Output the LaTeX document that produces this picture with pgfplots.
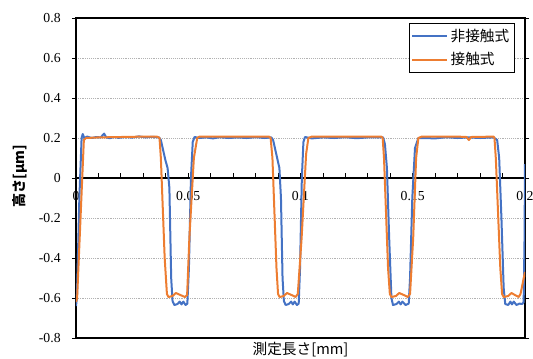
\documentclass[border=0pt]{standalone}
\usepackage{fontspec}
\usepackage{pgfplots}
\pgfplotsset{compat=1.18}
\setmainfont{Liberation Serif}
\newfontfamily\serifnum{Liberation Serif}
\newfontfamily\jp{Noto Sans CJK JP}
\definecolor{exblue}{HTML}{4472C4}
\definecolor{exorange}{HTML}{ED7D31}
\begin{document}
\begin{tikzpicture}
\useasboundingbox (-57pt,-15pt) rectangle (342.75pt,253.5pt);
\begin{axis}[
  scale only axis, width=336.75pt, height=240pt,
  xmin=0, xmax=0.2, ymin=-0.8, ymax=0.8,
  xtick=\empty,
  ytick={-0.8,-0.6,-0.4,-0.2,0,0.2,0.4,0.6,0.8},
  yticklabels={-0.8,-0.6,-0.4,-0.2,0,0.2,0.4,0.6,0.8},
  yticklabel style={font=\serifnum\fontsize{10.3}{12}\selectfont, xshift=-5pt},
  tick align=outside, major tick length=3pt,
  tick style={black, line width=0.6pt},
  ymajorgrids, grid style={densely dotted, black!30, line width=0.6pt},
  axis line style={line width=0.9pt},
  ylabel={\jp\bfseries\fontsize{10.5}{12}\selectfont 高さ[μm]},
  ylabel style={at={(axis description cs:-0.1247,0.506)}, anchor=center},
]
\end{axis}
\begin{axis}[
  scale only axis, width=336.75pt, height=240pt,
  xmin=0, xmax=0.2, ymin=-0.8, ymax=0.8,
  axis x line=middle, axis y line=none,
  x axis line style={-, line width=0.9pt},
  xtick={0,0.05,0.1,0.15,0.2},
  xticklabels={0,0.05,0.1,0.15,0.2},
  minor xtick={0.01,0.02,0.03,0.04,0.06,0.07,0.08,0.09,0.11,0.12,0.13,0.14,0.16,0.17,0.18,0.19},
  xtick align=inside,
  major tick length=3.5pt, minor tick length=3.5pt,
  tick style={black, line width=0.6pt},
  hide obscured x ticks=false,
  xticklabel style={font=\serifnum\fontsize{10.3}{12}\selectfont, anchor=north, yshift=-6.5pt},
  xlabel={\jp\fontsize{11}{13}\selectfont 測定長さ[mm]},
  xlabel style={at={(axis description cs:0.5,0)}, anchor=center, yshift=-8.6pt},
  legend style={at={(rel axis cs:0.9777,0.984)}, anchor=north east, draw=black, line width=0.6pt,
    font=\jp\fontsize{11}{13}\selectfont, inner xsep=2pt, inner ysep=2pt, row sep=3pt,
    cells={anchor=west}},
  legend image code/.code={\draw[#1, line width=1.2pt] (0pt,0pt) -- (26pt,0pt);},
  every axis plot/.append style={line width=1.5pt, line join=round, no markers},
]
\addplot[exblue] coordinates {
(0,-0.64) (0.0004,-0.6) (0.0015,-0.1) (0.0025,0.2) (0.003,0.22) (0.0037,0.2)
(0.005,0.207) (0.007,0.2) (0.009,0.205) (0.011,0.203) (0.0125,0.222) (0.0135,0.203)
(0.015,0.199) (0.017,0.205) (0.019,0.201) (0.022,0.205) (0.025,0.202) (0.028,0.208)
(0.031,0.203) (0.034,0.206) (0.037,0.203) (0.0378,0.19) (0.0388,0.14) (0.0398,0.09)
(0.0408,0.05) (0.0416,-0.05) (0.0424,-0.5) (0.043,-0.615) (0.0438,-0.635) (0.0452,-0.63)
(0.0462,-0.618) (0.047,-0.632) (0.0478,-0.618) (0.0488,-0.635) (0.0496,-0.628) (0.0503,-0.45)
(0.0512,0.0) (0.052,0.18) (0.0528,0.205) (0.055,0.2) (0.058,0.203) (0.061,0.198)
(0.064,0.204) (0.068,0.2) (0.072,0.203) (0.076,0.2) (0.08,0.204) (0.084,0.2)
(0.087,0.203) (0.0878,0.19) (0.0888,0.14) (0.0898,0.09) (0.0906,0.05) (0.0913,-0.1)
(0.092,-0.5) (0.0926,-0.615) (0.0934,-0.635) (0.0948,-0.63) (0.0958,-0.618) (0.0966,-0.632)
(0.0974,-0.618) (0.0984,-0.635) (0.0992,-0.628) (0.0998,-0.45) (0.1006,0.0) (0.1013,0.18)
(0.102,0.205) (0.105,0.198) (0.11,0.203) (0.115,0.2) (0.12,0.204) (0.125,0.199)
(0.13,0.203) (0.1368,0.203) (0.1376,0.17) (0.1385,0.05) (0.1395,-0.3) (0.1405,-0.6)
(0.1412,-0.635) (0.1428,-0.63) (0.1438,-0.618) (0.1446,-0.632) (0.1454,-0.618) (0.1468,-0.635)
(0.1482,-0.628) (0.1488,-0.5) (0.1498,-0.1) (0.151,0.15) (0.1525,0.2) (0.155,0.2)
(0.16,0.198) (0.165,0.204) (0.17,0.2) (0.175,0.203) (0.18,0.2) (0.186,0.203)
(0.1876,0.19) (0.1885,0.1) (0.1895,-0.2) (0.1905,-0.55) (0.1912,-0.63) (0.1925,-0.635)
(0.1935,-0.618) (0.1942,-0.632) (0.195,-0.618) (0.1962,-0.635) (0.1975,-0.628) (0.1988,-0.63)
(0.1994,-0.62) (0.1998,-0.3) (0.2,0.07)
};
\addlegendentry{非接触式}
\addplot[exorange] coordinates {
(0,-0.62) (0.0005,-0.6) (0.0035,0.19) (0.0045,0.2) (0.01,0.203) (0.02,0.205)
(0.03,0.207) (0.036,0.207) (0.0372,0.2) (0.0378,0.1) (0.0395,-0.4) (0.0405,-0.58)
(0.0412,-0.595) (0.043,-0.59) (0.0445,-0.575) (0.0465,-0.585) (0.0485,-0.595) (0.0495,-0.585)
(0.0505,-0.3) (0.0525,0.1) (0.054,0.2) (0.055,0.207) (0.07,0.207) (0.086,0.207)
(0.0867,0.2) (0.0875,0.1) (0.0893,-0.45) (0.09,-0.58) (0.0907,-0.595) (0.0925,-0.59)
(0.094,-0.575) (0.096,-0.585) (0.0978,-0.595) (0.0988,-0.58) (0.1005,-0.3) (0.1025,0.12)
(0.1035,0.2) (0.105,0.207) (0.12,0.207) (0.136,0.207) (0.1366,0.2) (0.1372,0.1)
(0.139,-0.45) (0.1398,-0.58) (0.1405,-0.595) (0.1425,-0.59) (0.144,-0.575) (0.146,-0.585)
(0.1478,-0.595) (0.1488,-0.58) (0.1502,-0.3) (0.1515,0.1) (0.1525,0.2) (0.154,0.207)
(0.17,0.207) (0.174,0.205) (0.175,0.19) (0.176,0.205) (0.186,0.207) (0.1864,0.2)
(0.187,0.1) (0.189,-0.45) (0.1898,-0.58) (0.1905,-0.595) (0.1925,-0.59) (0.194,-0.575)
(0.1955,-0.585) (0.1972,-0.595) (0.198,-0.58) (0.2,-0.47)
};
\addlegendentry{接触式}
\end{axis}
\end{tikzpicture}
\end{document}
